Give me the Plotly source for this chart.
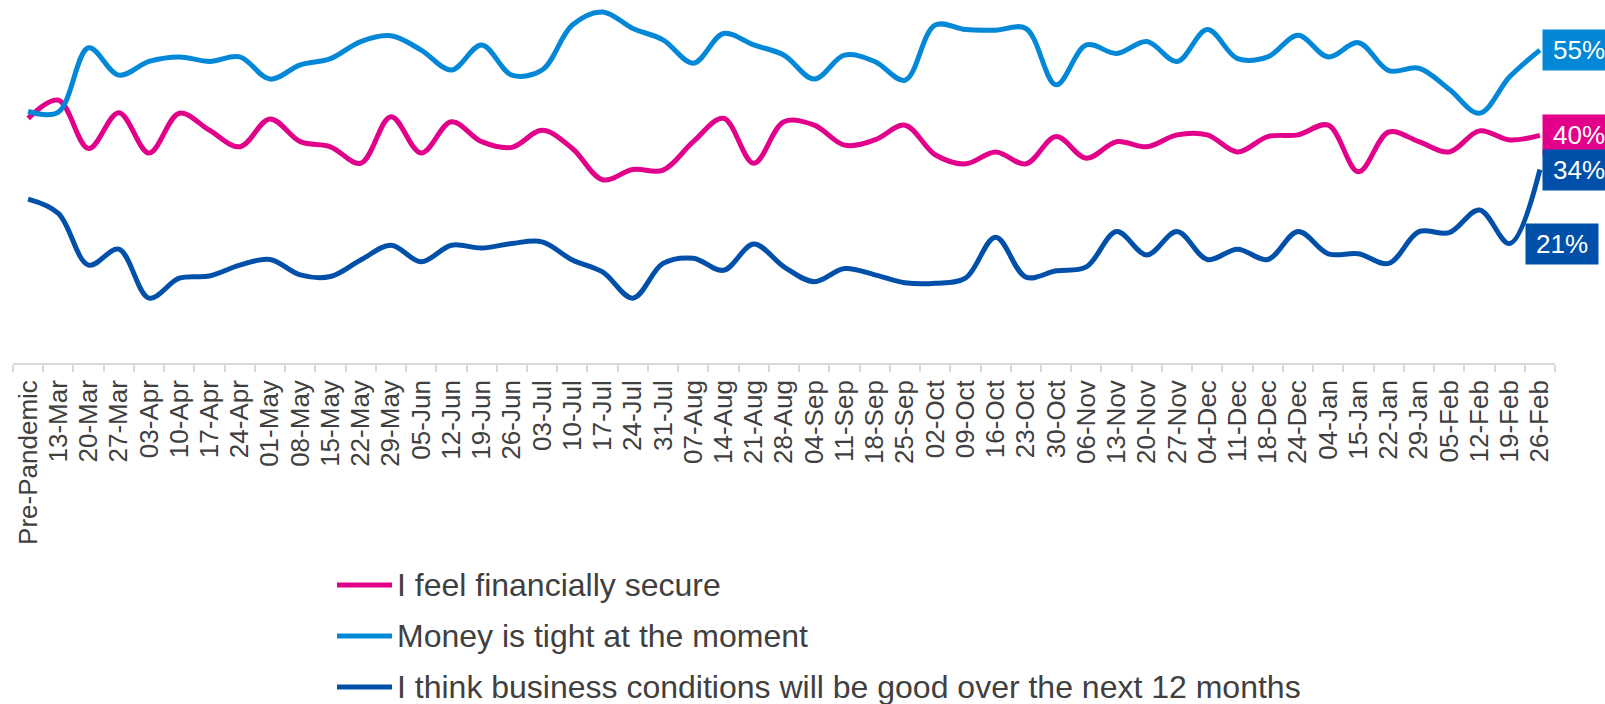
import plotly.graph_objects as go

# Weekly survey waves
weeks = [
    "Pre-Pandemic", "13-Mar", "20-Mar", "27-Mar", "03-Apr", "10-Apr", "17-Apr", "24-Apr",
    "01-May", "08-May", "15-May", "22-May", "29-May", "05-Jun", "12-Jun", "19-Jun", "26-Jun",
    "03-Jul", "10-Jul", "17-Jul", "24-Jul", "31-Jul", "07-Aug", "14-Aug", "21-Aug", "28-Aug",
    "04-Sep", "11-Sep", "18-Sep", "25-Sep", "02-Oct", "09-Oct", "16-Oct", "23-Oct", "30-Oct",
    "06-Nov", "13-Nov", "20-Nov", "27-Nov", "04-Dec", "11-Dec", "18-Dec", "24-Dec",
    "04-Jan", "15-Jan", "22-Jan", "29-Jan", "05-Feb", "12-Feb", "19-Feb", "26-Feb",
]

# % agreeing with each statement
financially_secure = [
    43.0, 46.2, 37.7, 44.0, 36.9, 43.9, 40.9, 38.0, 42.9, 38.9, 38.0, 35.1, 43.3,
    36.9, 42.4, 38.9, 37.9, 40.9, 37.7, 32.2, 34.0, 33.9, 38.9, 43.0, 35.1, 42.4,
    41.8, 38.3, 39.2, 41.8, 36.6, 35.0, 37.1, 35.0, 39.8, 36.0, 38.9, 38.0, 40.1,
    40.1, 37.1, 39.8, 40.1, 41.8, 33.6, 40.6, 38.9, 37.1, 40.8, 39.2, 40.0,
]
money_tight = [
    44.2, 44.1, 55.4, 50.6, 53.0, 53.8, 53.0, 53.8, 49.9, 52.4, 53.5, 56.5, 57.5,
    55.0, 51.5, 55.9, 50.6, 51.5, 59.4, 61.7, 58.8, 56.8, 52.7, 57.9, 55.9, 54.1,
    49.9, 54.1, 53.0, 49.7, 59.4, 58.6, 58.5, 58.8, 48.9, 55.9, 54.4, 56.5, 53.0,
    58.6, 53.5, 53.8, 57.6, 53.8, 56.3, 51.4, 51.8, 48.1, 43.9, 50.3, 55.0,
]
business_good = [
    28.8, 26.3, 17.2, 20.0, 11.4, 14.9, 15.3, 17.2, 18.2, 15.5, 15.2, 18.1, 20.7,
    17.8, 20.7, 20.2, 21.0, 21.3, 18.1, 16.0, 11.4, 17.5, 18.4, 16.3, 20.9, 16.9,
    14.3, 16.6, 15.5, 14.1, 14.0, 14.9, 22.1, 15.1, 16.2, 16.9, 23.1, 19.0, 23.1,
    18.2, 20.0, 18.2, 23.1, 19.2, 19.2, 17.5, 23.1, 22.9, 26.9, 21.0, 34.0,
]

series_names = [
    "I feel financially secure",
    "Money is tight at the moment",
    "I think business conditions will be good over the next 12 months",
]
series_values = [financially_secure, money_tight, business_good]
colors = ["#E2008A", "#0288D7", "#0050AA"]

FONT = "Liberation Sans, Arial, sans-serif"
TEXT_COLOR = "#404040"

W, H = 1605, 704
M_L, M_R, M_T, M_B = 13, 50, 0, 341
PLOT_W = W - M_L - M_R
PLOT_H = H - M_T - M_B
Y_MAX = 63.8

fig = go.Figure()
for name, vals, col in zip(series_names, series_values, colors):
    fig.add_trace(go.Scatter(
        x=weeks, y=vals, name=name, mode="lines",
        line=dict(color=col, width=5, shape="spline", smoothing=1.0),
        showlegend=False, hoverinfo="x+y",
    ))

# End-point value labels
labels = [
    (weeks[-1], money_tight[-1], colors[1], 2),
    (weeks[-1], financially_secure[-1], colors[0], 2),
    (weeks[-1], business_good[-1], colors[2], 2),
    (weeks[-2], business_good[-2], colors[2], 15),
]
annotations = []
for xcat, val, col, shift in labels:
    annotations.append(dict(
        x=xcat, y=val, xref="x", yref="y", xanchor="left", yanchor="middle",
        xshift=shift, text=f"{val:.0f}%", showarrow=False,
        bgcolor=col, width=72, height=40, borderpad=0, align="center",
        font=dict(family=FONT, size=26, color="white"),
    ))

# Legend drawn below the axis
def px_to_paper_x(px):
    return (px - M_L) / PLOT_W

def px_to_paper_y(py):
    return (M_T + PLOT_H - py) / PLOT_H

shapes = []
legend_rows = [585, 636, 687]
for name, col, row in zip(series_names, colors, legend_rows):
    shapes.append(dict(
        type="line", xref="paper", yref="paper",
        x0=px_to_paper_x(337), x1=px_to_paper_x(392),
        y0=px_to_paper_y(row), y1=px_to_paper_y(row),
        line=dict(color=col, width=5),
    ))
    annotations.append(dict(
        x=px_to_paper_x(395), y=px_to_paper_y(row), xref="paper", yref="paper",
        xanchor="left", yanchor="middle", text=name, showarrow=False,
        font=dict(family=FONT, size=32, color=TEXT_COLOR),
    ))

fig.update_layout(
    width=W, height=H,
    margin=dict(l=M_L, r=M_R, t=M_T, b=M_B, pad=0),
    paper_bgcolor="white", plot_bgcolor="white",
    annotations=annotations, shapes=shapes,
    showlegend=False,
    font=dict(family=FONT, color=TEXT_COLOR),
)
fig.update_xaxes(
    type="category", range=[-0.5, len(weeks) - 0.5],
    tickmode="linear", tick0=0, dtick=1,
    tickson="boundaries", ticks="outside", ticklen=7, tickwidth=1.5,
    tickcolor="#D9D9D9", showline=True, linecolor="#D9D9D9", linewidth=1.5,
    showgrid=False, tickangle=-90, ticklabelstandoff=5,
    tickfont=dict(family=FONT, size=26, color=TEXT_COLOR),
)
fig.update_yaxes(
    range=[0, Y_MAX], showgrid=False, zeroline=False,
    showticklabels=False, showline=False, ticks="",
)

fig.write_html("out.html")
